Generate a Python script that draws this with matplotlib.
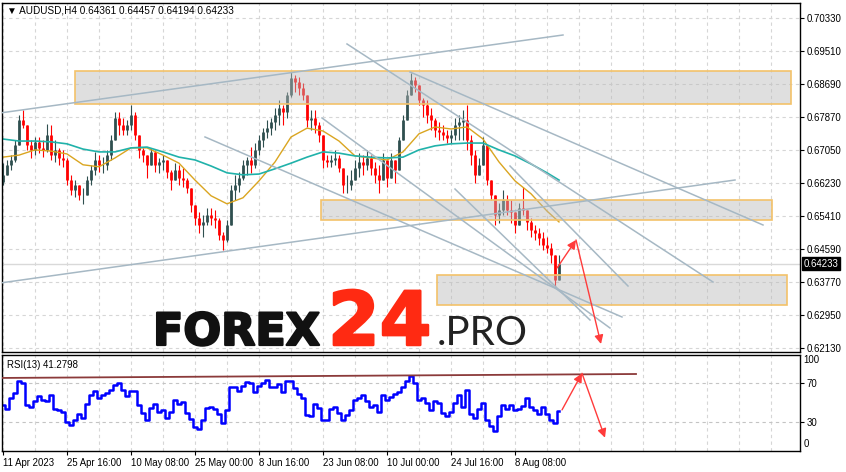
import numpy as np
import matplotlib
matplotlib.use("Agg")
import matplotlib.pyplot as plt
import matplotlib.transforms as mtransforms
import matplotlib.patheffects as pe
from matplotlib.patches import Rectangle

plt.rcParams['font.family'] = ['Liberation Sans', 'DejaVu Sans']

# AUDUSD H4, bars grouped by 4 (one entry = 4 bars)
first_open = 0.6625
closes = [0.6644, 0.6669, 0.6681, 0.6718, 0.6780, 0.6768, 0.6718, 0.6706, 0.6726, 0.6711,
          0.6706, 0.6743, 0.6693, 0.6706, 0.6686, 0.6681, 0.6631, 0.6606, 0.6619, 0.6594,
          0.6594, 0.6631, 0.6656, 0.6681, 0.6669, 0.6669, 0.6693, 0.6731, 0.6785, 0.6768,
          0.6756, 0.6768, 0.6793, 0.6743, 0.6706, 0.6693, 0.6669, 0.6701, 0.6669, 0.6676,
          0.6681, 0.6651, 0.6631, 0.6656, 0.6636, 0.6631, 0.6611, 0.6569, 0.6537, 0.6519,
          0.6527, 0.6544, 0.6537, 0.6532, 0.6494, 0.6482, 0.6519, 0.6606, 0.6619, 0.6636,
          0.6669, 0.6681, 0.6669, 0.6706, 0.6731, 0.6750, 0.6760, 0.6775, 0.6793, 0.6810,
          0.6800, 0.6842, 0.6885, 0.6875, 0.6860, 0.6842, 0.6780, 0.6785, 0.6768, 0.6743,
          0.6681, 0.6676, 0.6681, 0.6686, 0.6661, 0.6619, 0.6619, 0.6631, 0.6661, 0.6676,
          0.6669, 0.6686, 0.6661, 0.6644, 0.6631, 0.6681, 0.6636, 0.6681, 0.6656, 0.6731,
          0.6780, 0.6842, 0.6880, 0.6867, 0.6830, 0.6818, 0.6793, 0.6780, 0.6756, 0.6750,
          0.6743, 0.6736, 0.6743, 0.6768, 0.6775, 0.6780, 0.6731, 0.6693, 0.6644, 0.6669,
          0.6718, 0.6631, 0.6594, 0.6544, 0.6557, 0.6582, 0.6557, 0.6552, 0.6519, 0.6562,
          0.6557, 0.6527, 0.6507, 0.6500, 0.6487, 0.6470, 0.6462, 0.6445, 0.6383, 0.64233]
highs = [0.6673, 0.6681, 0.6693, 0.6731, 0.6793, 0.6805, 0.6768, 0.6731, 0.6738, 0.6738,
         0.6731, 0.6770, 0.6768, 0.6731, 0.6711, 0.6706, 0.6686, 0.6644, 0.6631, 0.6619,
         0.6611, 0.6641, 0.6669, 0.6701, 0.6693, 0.6688, 0.6706, 0.6743, 0.6800, 0.6800,
         0.6785, 0.6780, 0.6818, 0.6800, 0.6743, 0.6711, 0.6693, 0.6711, 0.6706, 0.6686,
         0.6693, 0.6681, 0.6656, 0.6673, 0.6669, 0.6661, 0.6636, 0.6611, 0.6569, 0.6552,
         0.6544, 0.6562, 0.6562, 0.6557, 0.6537, 0.6502, 0.6532, 0.6619, 0.6644, 0.6651,
         0.6681, 0.6688, 0.6713, 0.6723, 0.6743, 0.6760, 0.6780, 0.6785, 0.6810, 0.6830,
         0.6818, 0.6850, 0.6900, 0.6892, 0.6887, 0.6872, 0.6830, 0.6805, 0.6805, 0.6775,
         0.6718, 0.6693, 0.6693, 0.6706, 0.6693, 0.6656, 0.6644, 0.6656, 0.6681, 0.6698,
         0.6693, 0.6706, 0.6693, 0.6676, 0.6669, 0.6698, 0.6673, 0.6698, 0.6681, 0.6738,
         0.6793, 0.6855, 0.6897, 0.6887, 0.6867, 0.6835, 0.6830, 0.6810, 0.6785, 0.6775,
         0.6768, 0.6756, 0.6756, 0.6785, 0.6793, 0.6805, 0.6818, 0.6743, 0.6706, 0.6686,
         0.6738, 0.6706, 0.6619, 0.6594, 0.6574, 0.6606, 0.6594, 0.6582, 0.6544, 0.6574,
         0.6614, 0.6544, 0.6537, 0.6519, 0.6512, 0.6502, 0.6490, 0.6475, 0.6437, 0.64457]
lows = [0.6619, 0.6644, 0.6656, 0.6676, 0.6718, 0.6760, 0.6706, 0.6686, 0.6693, 0.6698,
        0.6688, 0.6701, 0.6681, 0.6676, 0.6669, 0.6664, 0.6619, 0.6594, 0.6589, 0.6582,
        0.6572, 0.6601, 0.6619, 0.6644, 0.6651, 0.6649, 0.6656, 0.6681, 0.6731, 0.6743,
        0.6743, 0.6743, 0.6756, 0.6731, 0.6686, 0.6676, 0.6636, 0.6669, 0.6651, 0.6649,
        0.6656, 0.6636, 0.6606, 0.6631, 0.6619, 0.6614, 0.6599, 0.6552, 0.6519, 0.6500,
        0.6490, 0.6519, 0.6519, 0.6512, 0.6482, 0.6457, 0.6477, 0.6519, 0.6582, 0.6601,
        0.6631, 0.6644, 0.6649, 0.6661, 0.6693, 0.6713, 0.6736, 0.6743, 0.6756, 0.6768,
        0.6768, 0.6785, 0.6837, 0.6850, 0.6842, 0.6830, 0.6763, 0.6756, 0.6748, 0.6726,
        0.6661, 0.6664, 0.6664, 0.6669, 0.6651, 0.6599, 0.6599, 0.6606, 0.6631, 0.6639,
        0.6644, 0.6656, 0.6644, 0.6624, 0.6599, 0.6644, 0.6614, 0.6656, 0.6624, 0.6676,
        0.6731, 0.6785, 0.6842, 0.6850, 0.6818, 0.6788, 0.6773, 0.6756, 0.6738, 0.6731,
        0.6731, 0.6723, 0.6723, 0.6731, 0.6731, 0.6731, 0.6706, 0.6669, 0.6624, 0.6644,
        0.6681, 0.6619, 0.6582, 0.6519, 0.6524, 0.6544, 0.6544, 0.6524, 0.6500, 0.6532,
        0.6544, 0.6507, 0.6490, 0.6482, 0.6470, 0.6457, 0.6450, 0.6425, 0.6365, 0.64194]
rsi = [48, 44, 55, 60, 73, 70, 48, 46, 52, 57,
       53, 52, 58, 44, 43, 40, 30, 27, 32, 38,
       34, 49, 58, 62, 55, 58, 60, 63, 68, 70,
       63, 57, 62, 62, 48, 39, 32, 45, 49, 40,
       43, 34, 40, 53, 49, 51, 39, 33, 25, 23,
       32, 45, 46, 44, 38, 29, 43, 66, 66, 62,
       67, 71, 70, 61, 67, 70, 74, 66, 66, 69,
       61, 73, 73, 65, 59, 55, 37, 36, 49, 45,
       32, 32, 44, 46, 39, 32, 37, 42, 53, 55,
       58, 52, 46, 48, 40, 58, 53, 56, 59, 61,
       66, 73, 78, 70, 53, 55, 50, 42, 52, 50,
       39, 36, 40, 50, 58, 46, 63, 38, 34, 44,
       50, 32, 26, 21, 36, 48, 44, 48, 42, 44,
       47, 55, 46, 43, 38, 46, 38, 32, 29, 41.28]
# moving averages, one value every 4 groups plus the last one
ma_fast = [0.6688, 0.6693, 0.6706, 0.6703, 0.6696, 0.6669, 0.6664, 0.6686, 0.6711, 0.6711,
           0.6693, 0.6673, 0.6631, 0.6592, 0.6572, 0.6587, 0.6629, 0.6676, 0.6738, 0.6760,
           0.6753, 0.6728, 0.6691, 0.6686, 0.6681, 0.6701, 0.6746, 0.6763, 0.6758, 0.6763,
           0.6733, 0.6676, 0.6629, 0.6597, 0.6554, 0.6527]
ma_slow = [0.6733, 0.6728, 0.6728, 0.6726, 0.6721, 0.6708, 0.6701, 0.6701, 0.6711, 0.6713,
           0.6701, 0.6688, 0.6681, 0.6666, 0.6649, 0.6644, 0.6646, 0.6659, 0.6673, 0.6688,
           0.6701, 0.6698, 0.6691, 0.6688, 0.6686, 0.6688, 0.6706, 0.6716, 0.6721, 0.6723,
           0.6723, 0.6706, 0.6691, 0.6671, 0.6649, 0.6631]

price_ticks = [0.62130, 0.62950, 0.63770, 0.64590, 0.65410, 0.66230,
               0.67050, 0.67870, 0.68690, 0.69510, 0.70330]
date_labels = ['11 Apr 2023', '25 Apr 16:00', '10 May 08:00', '25 May 00:00', '8 Jun 16:00',
               '23 Jun 08:00', '10 Jul 00:00', '24 Jul 16:00', '8 Aug 08:00']
last_price = 0.64233
last_rsi = 41.2798

# support / resistance boxes: (start, end, low, high)
zones = [(18, 197, 0.6819, 0.6903),
         (79.5, 192.25, 0.6531, 0.6581),
         (108.5, 195.9, 0.6320, 0.6394)]
# trend lines: (x0, p0, x1, p1)
trend_lines = [(-0.75, 0.67977, 140, 0.69915),
               (-0.75, 0.63752, 183, 0.66312),
               (50.5, 0.67381, 154.75, 0.62908),
               (79.75, 0.67853, 151.75, 0.62634),
               (113, 0.66088, 146.75, 0.62833),
               (126.75, 0.66660, 156.25, 0.63678),
               (101.75, 0.68996, 190, 0.65194),
               (86, 0.69692, 177.5, 0.63777)]
# forecast arrows
price_path = [(138.5, 0.64125), (143.25, 0.64821), (149.5, 0.62237)]
rsi_path = [(139.75, 42.6), (144.75, 80.5), (150.5, 13.8)]
rsi_trend = (-0.75, 75.7, 158.25, 79.8)

W, H = 846, 472
fig = plt.figure(figsize=(W / 100, H / 100), dpi=100)


def box(left, top, right, bottom):
    return [left / W, 1 - bottom / H, (right - left) / W, (bottom - top) / H]


ax = fig.add_axes(box(2, 3, 800, 352))
ax2 = fig.add_axes(box(2, 355, 800, 451))

grid_kw = dict(color='#d6d6d6', lw=0.8, ls=(0, (3, 3)))
for a in (ax, ax2):
    a.set_xlim(-0.25, 199.25)
    for gx in np.arange(0, 200, 8):
        a.axvline(gx, zorder=0, **grid_kw)
    for s in a.spines.values():
        s.set_color('black')
        s.set_linewidth(1.0)

# --- price panel ---
ax.set_ylim(0.62038, 0.70710)
for p in price_ticks:
    ax.axhline(p, zorder=0, **grid_kw)
ax.axhline(last_price, color='#d9d9d9', lw=1.0, zorder=1)

x = np.arange(len(closes))
o = np.array([first_open] + closes[:-1])
c = np.array(closes)
up = c >= o
colors = np.where(up, '#2f4f4f', '#ff0000')
lo = np.minimum(np.minimum(lows, o), c)
hi = np.maximum(np.maximum(highs, o), c)
ax.vlines(x, lo, hi, colors=colors, lw=0.8, zorder=2)
ax.vlines(x, np.minimum(o, c), np.maximum(o, c), colors=colors, lw=2.0, zorder=2)

ma_x = np.r_[np.arange(0, 137, 4), len(closes) - 1]
ax.plot(ma_x, ma_fast, color='#daa520', lw=1.0, zorder=2.5)
ax.plot(ma_x, ma_slow, color='#20b2aa', lw=1.2, zorder=2.5)

for i0, i1, p0, p1 in zones:
    ax.add_patch(Rectangle((i0, p0), i1 - i0, p1 - p0, facecolor='#bababa',
                           alpha=0.45, edgecolor='none', zorder=3))
    ax.add_patch(Rectangle((i0, p0), i1 - i0, p1 - p0, facecolor='none',
                           edgecolor='#f3c26a', lw=1.2, zorder=3.2))

for x0, p0, x1, p1 in trend_lines:
    ax.plot([x0, x1], [p0, p1], color='#a6b8c4', lw=1.1, zorder=4)

arrow_kw = dict(arrowstyle='-|>', color='#ff3b3b', lw=1.0, mutation_scale=13,
                shrinkA=0, shrinkB=0)
for (xa, ya), (xb, yb) in zip(price_path[:-1], price_path[1:]):
    ax.annotate('', xy=(xb, yb), xytext=(xa, ya), arrowprops=arrow_kw, zorder=5)

ax.yaxis.tick_right()
ax.set_yticks(price_ticks)
ax.set_yticklabels([f'{p:.5f}' for p in price_ticks])
ax.set_xticks([])
ax.tick_params(axis='y', direction='out', length=3, width=0.8, pad=2, labelsize=6.9)

trans = mtransforms.blended_transform_factory(ax.transAxes, ax.transData)
ax.text(1.0045, last_price, f'{last_price:.5f}', transform=trans, va='center', ha='left',
        color='white', fontsize=6.9,
        bbox=dict(boxstyle='square,pad=0.15', fc='black', ec='black'))

fig.text(7 / W, 1 - 10.5 / H, '\u25bc AUDUSD,H4 0.64361 0.64457 0.64194 0.64233',
         fontsize=7.2, va='center', ha='left')

# --- RSI panel ---
ax2.set_ylim(0, 99.5)
for lv in (30, 70):
    ax2.axhline(lv, color='#c4c4c4', lw=0.8, ls=(0, (3, 3)), zorder=0)
ax2.step(x, rsi, where='mid', color='#0000ff', lw=1.8, zorder=2)
ax2.plot(rsi_trend[::2], rsi_trend[1::2], color='#8b3a3a', lw=1.3, zorder=3)
for (xa, ya), (xb, yb) in zip(rsi_path[:-1], rsi_path[1:]):
    ax2.annotate('', xy=(xb, yb), xytext=(xa, ya), arrowprops=arrow_kw, zorder=5)

ax2.yaxis.tick_right()
ax2.set_yticks([30, 70])
ax2.tick_params(axis='y', direction='out', length=3, width=0.8, pad=1.5, labelsize=6.9)
ax2.text(1.004, 0.945, '100', transform=ax2.transAxes, fontsize=6.9, va='center', ha='left')
ax2.text(1.004, 0.075, '0', transform=ax2.transAxes, fontsize=6.9, va='center', ha='left')
ax2.text(0.006, 0.9, f'RSI(13) {last_rsi:.4f}', transform=ax2.transAxes, fontsize=6.9,
         va='center', ha='left')

ax2.set_xticks(np.arange(0, 16 * len(date_labels), 16))
ax2.set_xticklabels(date_labels, ha='left')
ax2.tick_params(axis='x', direction='out', length=3, width=0.8, pad=2, labelsize=6.9)

# --- watermark ---
base = 1 - 345 / H
fig.text(153 / W, base, 'FOREX', fontsize=32, fontweight='bold', family='DejaVu Sans',
         color='#111111', va='baseline', ha='left',
         path_effects=[pe.withStroke(linewidth=1.6, foreground='#111111')])
fig.text(328 / W, base, '24', fontsize=53.5, fontweight='bold', family='DejaVu Sans',
         color='#ff2a12', va='baseline', ha='left',
         path_effects=[pe.withStroke(linewidth=1.8, foreground='#ff2a12')])
fig.text(437 / W, base, '.PRO', fontsize=29, fontweight='normal', family='Lato',
         color='#222222', va='baseline', ha='left')

fig.savefig('out.png', dpi=100)
